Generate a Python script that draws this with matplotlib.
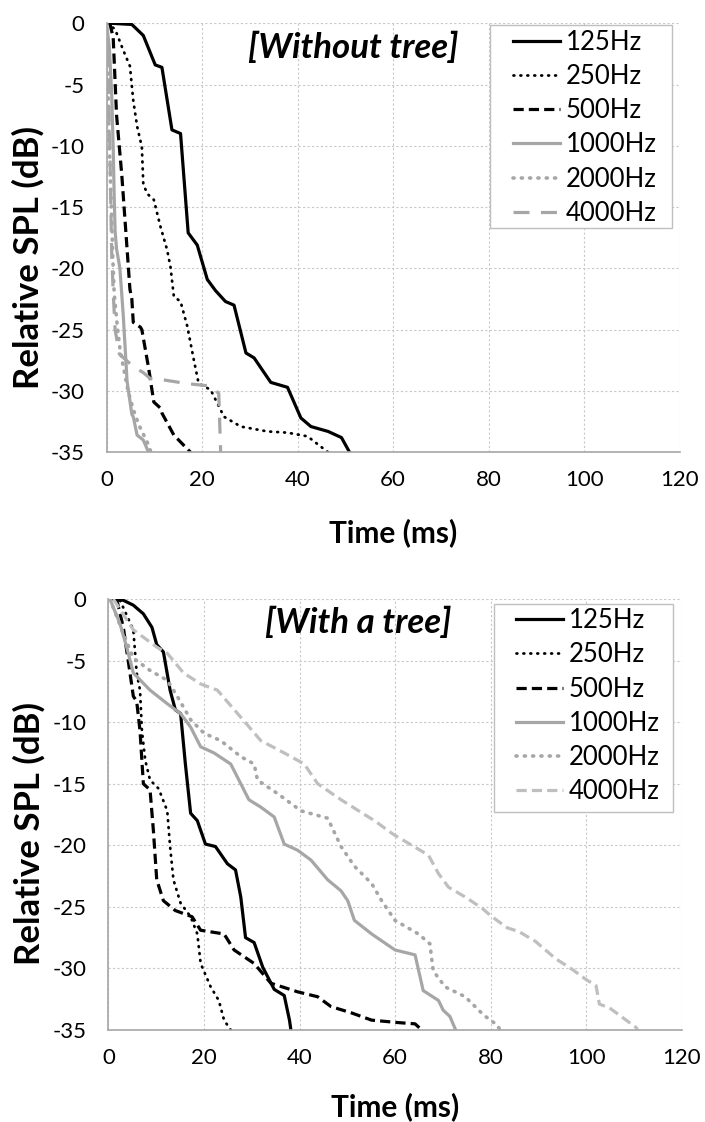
import matplotlib
matplotlib.use('Agg')
import matplotlib.pyplot as plt
from matplotlib.patches import Rectangle

plt.rcParams['font.family'] = ['Lato', 'DejaVu Sans']
plt.rcParams['axes.unicode_minus'] = False

labels = ['125Hz', '250Hz', '500Hz', '1000Hz', '2000Hz', '4000Hz']
x_ticks = [0, 20, 40, 60, 80, 100, 120]
y_ticks = [0, -5, -10, -15, -20, -25, -30, -35]

# ---- without tree (top) ----
top_125_t = [0.7, 5.3, 7.7, 10.2, 11.6, 13.7, 15.5, 17.1, 19.0, 21.1, 22.8, 24.9, 26.7, 29.2, 30.9, 34.4, 37.9, 40.7, 42.8, 46.4, 49.2, 50.9]
top_125_db = [0, -0.1, -1.0, -3.4, -3.6, -8.7, -9.0, -17.1, -18.1, -20.9, -21.8, -22.7, -23.0, -26.9, -27.3, -29.3, -29.7, -32.2, -32.9, -33.3, -33.8, -35]

top_250_t = [0.2, 1.8, 3.5, 4.9, 5.6, 6.4, 7.4, 7.7, 8.5, 9.9, 11.3, 12.7, 13.4, 14.1, 15.5, 16.9, 18.3, 19.3, 21.8, 23.2, 24.6, 28.1, 33.7, 37.9, 42.1, 46.4]
top_250_db = [0, -0.5, -2.2, -3.5, -6.3, -8.4, -10.1, -13.1, -13.9, -14.4, -16.6, -18.5, -19.9, -22.3, -22.7, -24.7, -27.5, -29.4, -29.9, -31.0, -32.1, -32.9, -33.3, -33.4, -33.7, -35]

top_500_t = [0.7, 1.4, 2.1, 3.2, 4.3, 4.9, 5.3, 5.6, 7.1, 7.4, 8.8, 9.9, 11.3, 11.6, 14.1, 17.6]
top_500_db = [0, -1.2, -7.5, -12.4, -18.4, -21.7, -22.5, -24.4, -24.8, -25.0, -28.1, -30.9, -31.4, -31.8, -33.6, -35]

top_1000_t = [0, 0.6, 1.1, 1.4, 1.6, 1.8, 2.1, 2.8, 3.5, 3.9, 4.3, 5.3, 5.6, 6.4, 7.7, 8.8]
top_1000_db = [0, -2.0, -6.0, -10.2, -14.0, -17.0, -18.4, -20.0, -23.8, -26.5, -29.2, -31.9, -32.1, -33.6, -34.0, -35]

top_2000_t = [0, 0.3, 0.6, 1.0, 1.3, 1.6, 2.2, 2.8, 3.5, 4.5, 5.6, 6.8, 7.8, 8.8, 9.3]
top_2000_db = [0, -5, -10, -15, -19, -22, -24.5, -26.5, -28, -30, -31.5, -32.8, -33.6, -34.4, -35]

top_4000_t = [0, 0.4, 0.7, 0.9, 1.1, 1.4, 1.8, 2.7, 5.6, 7.7, 9.2, 12.0, 16.9, 21.8, 23.5, 23.9]
top_4000_db = [0, -5, -10, -15, -19, -22, -25, -27, -28.0, -28.5, -29.0, -29.1, -29.4, -29.6, -30.2, -35]

# ---- with a tree (bottom) ----
bot_125_t = [1.0, 3.1, 5.2, 7.3, 9.1, 10.1, 11.5, 12.9, 14.0, 15.1, 16.1, 17.2, 18.6, 20.3, 22.4, 24.9, 26.6, 27.7, 28.7, 30.5, 32.3, 34.7, 36.8, 37.9, 38.2]
bot_125_db = [0, -0.1, -0.5, -1.2, -2.3, -3.7, -4.3, -7.4, -9.0, -9.3, -13.4, -17.4, -18.0, -19.9, -20.1, -21.5, -22.0, -24.2, -27.5, -27.9, -29.9, -31.7, -32.2, -34.2, -35]

bot_250_t = [1.0, 2.4, 5.2, 5.9, 6.6, 7.0, 7.7, 8.7, 10.5, 12.3, 12.9, 13.6, 15.1, 17.2, 18.6, 19.3, 21.4, 23.1, 24.2, 25.6]
bot_250_db = [0, -0.1, -2.5, -6.0, -7.4, -10.7, -13.1, -14.7, -15.4, -17.2, -20.1, -22.8, -24.7, -25.8, -27.2, -29.6, -31.5, -32.6, -34.2, -35]

bot_500_t = [1.7, 3.1, 4.2, 5.2, 5.9, 6.6, 7.3, 8.7, 9.4, 10.1, 11.5, 14.0, 17.5, 19.3, 24.2, 26.3, 30.5, 34.0, 39.6, 43.8, 46.6, 50.8, 55.1, 60.7, 64.2, 65.6]
bot_500_db = [0, -2.3, -5.2, -7.9, -8.3, -10.7, -15.0, -15.5, -18.8, -22.8, -24.5, -25.3, -25.8, -26.9, -27.2, -28.5, -29.6, -31.2, -31.9, -32.3, -33.1, -33.6, -34.2, -34.4, -34.5, -35]

bot_1000_t = [0.3, 2.4, 3.8, 5.2, 8.7, 12.3, 15.1, 17.2, 19.3, 22.1, 25.6, 27.7, 29.4, 31.9, 34.7, 36.8, 39.6, 42.4, 45.9, 48.7, 50.1, 51.5, 55.1, 60.0, 64.2, 65.9, 69.1, 70.1, 71.5, 72.7]
bot_1000_db = [0, -2.0, -3.9, -6.0, -7.4, -8.5, -9.3, -10.4, -12.0, -12.5, -13.4, -15.0, -16.3, -16.9, -17.7, -19.9, -20.4, -21.2, -22.8, -23.7, -24.5, -26.1, -27.2, -28.5, -28.9, -31.8, -32.6, -33.4, -33.9, -35]

bot_2000_t = [0.3, 3.1, 5.2, 8.7, 12.3, 14.4, 17.2, 20.0, 23.5, 27.7, 30.5, 31.2, 35.4, 40.3, 45.9, 48.7, 51.5, 55.1, 57.2, 60.0, 64.9, 67.3, 68.0, 70.5, 74.7, 78.6, 81.4, 82.0]
bot_2000_db = [0, -2.8, -4.8, -5.8, -6.6, -7.9, -9.8, -10.9, -11.5, -12.8, -13.4, -14.7, -15.8, -17.2, -17.8, -20.1, -21.7, -23.1, -24.5, -26.1, -27.2, -28.0, -30.2, -31.5, -32.3, -33.8, -34.6, -35]

bot_4000_t = [1.0, 5.2, 10.1, 12.3, 15.7, 19.3, 22.8, 27.7, 31.9, 36.8, 41.0, 43.8, 48.7, 53.2, 55.7, 59.6, 67.0, 69.1, 71.2, 74.7, 78.2, 80.3, 83.5, 85.9, 89.4, 93.6, 97.2, 100.0, 102.1, 102.8, 104.9, 107.7, 110.5, 110.8]
bot_4000_db = [0, -2.5, -3.9, -4.4, -6.0, -6.9, -7.4, -9.6, -11.5, -12.5, -13.4, -15.0, -16.3, -17.4, -18.0, -19.1, -20.8, -22.3, -23.4, -24.2, -25.1, -25.8, -26.7, -27.0, -27.8, -29.2, -30.1, -30.9, -31.4, -32.9, -33.2, -34.0, -34.8, -35]

BLACK = '#000000'
GRAY = '#a6a6a6'
LIGHT = '#bfbfbf'

top_styles = [
    dict(color=BLACK, lw=2.3, ls='-'),
    dict(color=BLACK, lw=2.0, ls=(0, (0.3, 2.2)), dash_capstyle='round'),
    dict(color=BLACK, lw=2.3, ls=(0, (3.2, 1.6))),
    dict(color=GRAY, lw=2.3, ls='-'),
    dict(color=GRAY, lw=2.6, ls=(0, (0.3, 2.0)), dash_capstyle='round'),
    dict(color=GRAY, lw=2.3, ls=(0, (5.0, 3.6))),
]
bot_styles = [
    dict(color=BLACK, lw=2.3, ls='-'),
    dict(color=BLACK, lw=2.0, ls=(0, (0.3, 2.2)), dash_capstyle='round'),
    dict(color=BLACK, lw=2.3, ls=(0, (3.2, 1.6))),
    dict(color=GRAY, lw=2.3, ls='-'),
    dict(color=GRAY, lw=2.6, ls=(0, (0.3, 2.0)), dash_capstyle='round'),
    dict(color=LIGHT, lw=2.3, ls=(0, (3.2, 1.6))),
]

top_series = [(top_125_t, top_125_db), (top_250_t, top_250_db), (top_500_t, top_500_db),
              (top_1000_t, top_1000_db), (top_2000_t, top_2000_db), (top_4000_t, top_4000_db)]
bot_series = [(bot_125_t, bot_125_db), (bot_250_t, bot_250_db), (bot_500_t, bot_500_db),
              (bot_1000_t, bot_1000_db), (bot_2000_t, bot_2000_db), (bot_4000_t, bot_4000_db)]

fig = plt.figure(figsize=(7.05, 11.22), dpi=100)
ax1 = fig.add_axes([0.1511, 0.5969, 0.8128, 0.3824])
ax2 = fig.add_axes([0.1539, 0.0820, 0.8128, 0.3841])


def setup(ax, series, styles, title, title_xy, box, leg_anchor, xlab_y, ylab_x):
    for (t, db), st, lab in zip(series, styles, labels):
        ax.plot(t, db, label=lab, **st)
    ax.set_xlim(0, 120)
    ax.set_ylim(-35, 0)
    ax.set_xticks(x_ticks)
    ax.set_yticks(y_ticks)
    ax.grid(True, color='#c8c8c8', ls=(0, (2, 2)), lw=0.8)
    ax.set_axisbelow(True)
    for s in ['top', 'right']:
        ax.spines[s].set_visible(False)
    for s in ['left', 'bottom']:
        ax.spines[s].set_color('#a6a6a6')
        ax.spines[s].set_linewidth(1.2)
    ax.tick_params(axis='y', length=0, pad=16, labelsize=16)
    ax.tick_params(axis='x', length=0, pad=13, labelsize=16)
    ax.set_xlabel('Time (ms)', fontsize=21.5, fontweight='bold')
    ax.set_ylabel('Relative SPL (dB)', fontsize=25, fontweight='bold')
    ax.xaxis.set_label_coords(0.5, xlab_y)
    ax.xaxis.label.set_va('center')
    ax.yaxis.set_label_coords(ylab_x, 0.455)
    ax.yaxis.label.set_va('center')
    ax.text(title_xy[0], title_xy[1], title, fontsize=25, fontweight='bold',
            fontstyle='italic', ha='center', va='center')
    ax.add_patch(Rectangle((box[0], box[1]), box[2] - box[0], box[3] - box[1],
                           transform=ax.transAxes, facecolor='white',
                           edgecolor='#bfbfbf', lw=1.0, zorder=4))
    leg = ax.legend(loc='upper left', bbox_to_anchor=leg_anchor, frameon=False,
                    fontsize=18.5, handlelength=1.85, handletextpad=0.2,
                    labelspacing=0.36, borderpad=0, borderaxespad=0)
    leg.set_zorder(5)


setup(ax1, top_series, top_styles, '[Without tree]', (51.7, -2.0),
      (0.669, 0.523, 0.987, 0.996), (0.709, 0.985), -0.188, -0.136)
setup(ax2, bot_series, bot_styles, '[With a tree]', (52.2, -1.95),
      (0.673, 0.506, 0.985, 0.988), (0.711, 0.979), -0.179, -0.139)

fig.savefig('out.png', dpi=100)
